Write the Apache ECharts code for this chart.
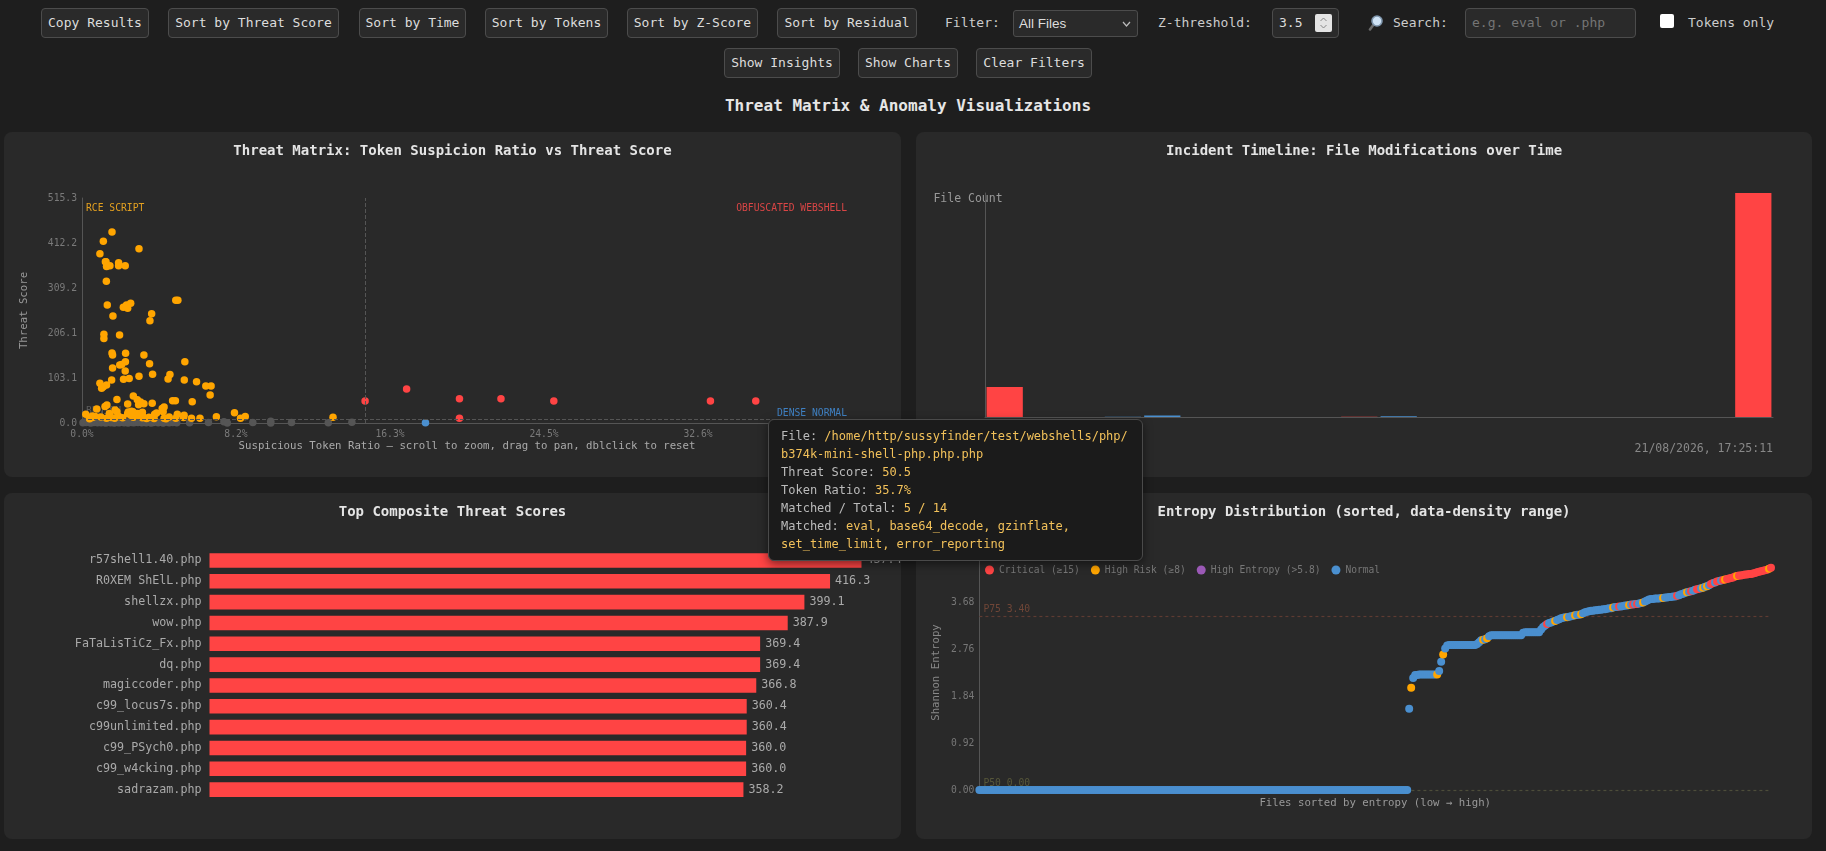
<!DOCTYPE html>
<html><head><meta charset="utf-8">
<script src="https://cdn.jsdelivr.net/npm/echarts@6.0.0/dist/echarts.min.js"></script>
<style>
html,body{margin:0;padding:0;background:#1e1e1e;}
body{width:1826px;height:851px;position:relative;overflow:hidden;font-family:'DejaVu Sans Mono',monospace;color:#ddd;}
.btn{position:absolute;box-sizing:border-box;height:30px;line-height:28px;border:1px solid #4c4c4c;border-radius:4px;background:#2a2a2a;color:#ddd;font-size:13px;text-align:center;white-space:nowrap;}
.lbl{position:absolute;font-size:13px;color:#ccc;line-height:30px;top:8px;white-space:nowrap;}
.inp{position:absolute;box-sizing:border-box;top:8px;height:30px;border:1px solid #4c4c4c;border-radius:4px;background:#2a2a2a;}
.panel{position:absolute;background:#292929;border-radius:8px;}
</style></head>
<body>
<div class="btn" style="left:41px;top:8px;width:108px;">Copy Results</div>
<div class="btn" style="left:168px;top:8px;width:171px;">Sort by Threat Score</div>
<div class="btn" style="left:359px;top:8px;width:107px;">Sort by Time</div>
<div class="btn" style="left:485px;top:8px;width:123px;">Sort by Tokens</div>
<div class="btn" style="left:627px;top:8px;width:131px;">Sort by Z-Score</div>
<div class="btn" style="left:777px;top:8px;width:140px;">Sort by Residual</div>
<div class="lbl" style="left:945px;">Filter:</div>
<div class="inp" style="left:1013px;top:10px;height:27px;width:125px;border-radius:3px;">
  <span style="position:absolute;left:5px;top:0;line-height:25px;font-family:'Liberation Sans',Arial,sans-serif;font-size:13.5px;color:#ddd;">All Files</span>
  <svg style="position:absolute;left:108px;top:10px" width="9" height="6" viewBox="0 0 9 6"><polyline points="1,1 4.5,5 8,1" fill="none" stroke="#bbb" stroke-width="1.2"/></svg>
</div>
<div class="lbl" style="left:1158px;">Z-threshold:</div>
<div class="inp" style="left:1272px;width:67px;">
  <span style="position:absolute;left:6px;top:0;line-height:28px;font-size:13px;color:#ddd;">3.5</span>
  <div style="position:absolute;left:42px;top:5px;width:17px;height:18px;background:#e4e4e4;border-radius:2px;">
    <svg style="position:absolute;left:4px;top:2px" width="9" height="14" viewBox="0 0 9 14"><polyline points="1.5,5 4.5,2 7.5,5" fill="none" stroke="#888" stroke-width="1"/><polyline points="1.5,9 4.5,12 7.5,9" fill="none" stroke="#888" stroke-width="1"/></svg>
  </div>
</div>
<svg style="position:absolute;left:1367px;top:15px" width="17" height="16" viewBox="0 0 17 16"><line x1="7" y1="9" x2="3" y2="14.5" stroke="#6a6a6a" stroke-width="2.6" stroke-linecap="round"/><circle cx="10" cy="6" r="5" fill="#cfe3f5" stroke="#7f96ad" stroke-width="1.6"/></svg>
<div class="lbl" style="left:1393px;">Search:</div>
<div class="inp" style="left:1465px;width:171px;">
  <span style="position:absolute;left:6px;top:0;line-height:28px;font-size:13px;color:#757575;">e.g. eval or .php</span>
</div>
<div style="position:absolute;left:1660px;top:14px;width:14px;height:14px;background:#fff;border-radius:2px;"></div>
<div class="lbl" style="left:1688px;">Tokens only</div>

<div class="btn" style="left:724px;top:48px;width:116px;">Show Insights</div>
<div class="btn" style="left:858px;top:48px;width:100px;">Show Charts</div>
<div class="btn" style="left:976px;top:48px;width:116px;">Clear Filters</div>

<div style="position:absolute;left:0;width:1816px;top:96px;line-height:20px;text-align:center;font-size:16px;font-weight:bold;color:#e6e6e6;">Threat Matrix &amp; Anomaly Visualizations</div>

<div id="c1" class="panel" style="left:4px;top:132px;width:897px;height:345px;z-index:5;"></div>
<div id="c2" class="panel" style="left:916px;top:132px;width:896px;height:345px;"></div>
<div id="c3" class="panel" style="left:4px;top:493px;width:897px;height:346px;"></div>
<div id="c4" class="panel" style="left:916px;top:493px;width:896px;height:346px;"></div>

<script>
// ---------- DATA ----------
// Threat matrix: [suspicious token ratio %, threat score]
const lowRisk = [
[0.05,0.4],[0.12,2.1],[0.22,0.9],[0.31,3.6],[0.38,1.2],[0.47,0.2],[0.56,2.7],[0.63,1.0],[0.74,4.4],[0.82,0.6],
[0.91,1.9],[1.02,0.3],[1.08,3.1],[1.17,1.4],[1.26,0.1],[1.35,2.4],[1.44,5.0],[1.52,0.8],[1.63,1.7],[1.71,0.2],
[1.80,3.3],[1.88,1.1],[1.97,0.5],[2.06,2.2],[2.14,4.0],[2.23,0.7],[2.35,1.5],[2.44,0.2],[2.52,3.0],[2.63,1.2],
[2.75,0.4],[2.86,2.5],[2.97,0.9],[3.08,4.6],[3.17,0.3],[3.29,1.8],[3.40,0.6],[3.52,2.9],[3.66,0.2],[3.78,1.3],
[3.91,3.5],[4.04,0.5],[4.18,1.6],[4.30,0.1],[4.47,2.3],[4.62,0.7],[4.80,1.0],[5.02,0.3],[5.70,0.5],[6.70,1.0],
[7.52,3.0],[7.70,0.1],[9.05,1.0],[10.00,4.0],[10.00,0.2],[11.10,1.0],[13.05,0.5],[14.30,2.0]
];
const rceScripts = [
[1.59,437.4],[1.13,416.3],[3.02,399.1],[0.95,387.9],[1.24,369.4],[1.27,369.4],[1.94,366.8],[1.34,360.4],[1.48,360.4],[1.94,360.0],[2.29,360.0],[1.30,358.2],
[1.29,324.5],[1.34,270.2],[1.64,245.1],[2.19,265.0],[2.36,270.3],[2.58,274.1],[2.42,262.6],[4.97,281.0],[5.08,281.0],[3.69,250.3],[3.60,234.2],
[1.16,203.1],[1.16,193.4],[1.99,201.5],[1.59,160.2],[1.62,156.0],[2.31,159.6],[3.28,155.7],[2.30,140.0],[2.10,134.0],[2.00,133.0],[3.58,135.8],[5.45,140.4],
[1.62,126.0],[2.29,119.0],[3.02,107.0],[3.74,111.5],[4.66,111.0],[4.56,101.0],[1.57,98.5],[2.20,100.0],[2.50,102.0],[5.42,98.5],[6.07,94.6],[6.56,84.7],[6.84,84.7],[6.79,64.0],
[0.95,90.8],[1.13,83.0],[1.30,87.0],[1.04,79.4],[2.72,61.8],[2.93,53.0],[3.10,48.0],[3.28,44.0],[3.00,42.0],[3.72,45.0],[4.80,51.0],[4.95,51.0],[5.84,48.8],
[2.42,43.5],[1.85,54.0],[1.32,41.0],[1.22,38.0],[0.78,32.0],[1.75,29.8],[1.85,26.0],[4.25,33.0],[4.35,36.5],[4.30,26.0],[3.95,23.0],[3.85,20.0],[2.70,26.0],
[2.95,21.5],[3.20,24.5],[0.20,20.0],[0.55,12.5],[0.70,15.0],[1.45,21.5],[1.55,12.5],[1.73,11.0],[1.30,11.0],[2.42,21.0],[2.60,18.0],[2.72,13.0],[3.20,12.0],
[3.42,10.5],[3.82,10.5],[4.35,11.0],[4.45,9.5],[4.97,10.7],[5.41,17.5],[5.38,12.5],[5.80,10.7],[6.25,10.7],[7.12,14.5],[8.08,23.6],[8.40,11.0],[8.65,15.0],[13.30,13.0],
[0.55,16.0],[2.45,25.0],[2.62,27.0],[3.05,16.0],[3.20,16.5],[4.62,14.0],[5.05,20.0],[3.55,13.0],[1.95,15.0],[2.15,12.0],[1.00,14.0],[0.40,10.0]
];
const denseNormal = [[18.2,0.7]];
const obfuscated = [[15.0,50.5],[17.2,77.9],[20.0,55.7],[20.0,10.7],[22.2,55.7],[25.0,50.5],[33.3,50.5],[35.7,50.5]];
const ratioThreshold = 15;
const scoreThreshold = 8;
const ratioAxisMax = 40.8, ratioAxisStep = 8.16;
const scoreAxisMax = 515.3, scoreAxisStep = 103.06;
// hovered point details (tooltip)
const tipIndex = 7;
const tipFile = '/home/http/sussyfinder/test/webshells/php/b374k-mini-shell-php.php.php';
const tipMatched = ['eval','base64_decode','gzinflate','set_time_limit','error_reporting'];
const tipTotal = 14;

// Incident timeline (20 bins)
const binCounts   = [82,0,0,1,4,0,0,0,0,1,2,0,0,0,0,0,0,0,0,612];
const binSeverity = ['c','','','n','n','','','','','c','n','','','','','','','','','c'];
const timelineStart = '11/03/2019, 08:14:52';
const timelineEnd = '21/08/2026, 17:25:11';

// Top composite scores
const topFiles = ['r57shell1.40.php','R0XEM ShElL.php','shellzx.php','wow.php','FaTaLisTiCz_Fx.php','dq.php','magiccoder.php','c99_locus7s.php','c99unlimited.php','c99_PSych0.php','c99_w4cking.php','sadrazam.php'];
const topScores = [437.4,416.3,399.1,387.9,369.4,369.4,366.8,360.4,360.4,360.0,360.0,358.2];

// Entropy (sorted)
const entropySorted = [
0,0,0,0,0,0,0,0,0,0,0,0,0,0,0,0,0,0,0,0,0,0,0,0,0,0,0,0,0,0,0,0,0,0,0,0,0,0,0,0,0,0,0,
0,0,0,0,0,0,0,0,0,0,0,0,0,0,0,0,0,0,0,0,0,0,0,0,0,0,0,0,0,0,0,0,0,0,0,0,0,0,0,0,0,0,0,
0,0,0,0,0,0,0,0,0,0,0,0,0,0,0,0,0,0,0,0,0,0,0,0,0,0,0,0,0,0,0,0,0,0,0,0,0,0,0,0,0,0,0,
0,0,0,0,0,0,0,0,0,0,0,0,0,0,0,0,0,0,0,0,0,0,0,0,0,0,0,0,0,0,0,0,0,0,0,0,0,0,0,0,0,0,0,
0,0,0,0,0,0,0,0,0,0,0,0,0,0,0,0,0,0,0,0,0,0,0,0,0,0,0,0,0,0,0,0,0,0,0,0,0,0,0,0,0,0,0,
1.59,2.00,2.19,2.25,2.25,2.26,2.26,2.26,2.26,2.26,2.26,2.26,2.26,2.26,2.26,2.33,2.51,2.65,2.77,
2.83,2.84,2.84,2.84,2.84,2.84,2.84,2.84,2.84,2.84,2.84,2.84,2.84,2.84,2.84,
2.86,2.89,2.93,2.94,2.95,2.97,3.01,
3.03,3.03,3.03,3.03,3.03,3.03,3.03,3.03,3.03,3.03,3.03,3.03,3.03,3.03,3.03,3.03,
3.08,3.09,3.09,3.09,3.09,3.09,3.09,3.09,3.09,
3.14,3.19,3.22,3.25,3.27,3.28,3.30,3.31,3.33,3.34,3.36,3.37,3.38,3.38,3.39,3.40,3.41,3.42,3.43,3.43,
3.44,3.46,3.48,3.49,3.50,3.51,3.51,3.52,3.52,3.53,3.53,3.54,3.54,3.55,3.56,3.56,3.57,3.58,3.58,3.59,
3.59,3.60,3.61,3.61,3.62,3.63,3.63,3.64,3.64,3.65,3.66,3.67,3.69,3.71,3.73,3.74,3.74,3.75,3.75,3.75,
3.76,3.76,3.77,3.77,3.78,3.78,3.79,3.79,3.80,3.81,3.83,3.84,3.86,3.87,3.88,3.89,3.90,3.92,3.93,3.94,
3.95,3.96,3.98,3.99,4.01,4.03,4.05,4.06,4.08,4.09,4.10,4.11,4.12,4.13,4.14,4.15,4.16,4.18,4.19,4.20,
4.20,4.21,4.22,4.22,4.23,4.23,4.24,4.25,4.26,4.27,4.28,4.29,4.30,4.31,4.33,4.35
];
const criticalIdx = [284,320,327,329,349,356,359,360,366,367,369,370,372,374,375,376,377,378,380,381,382,383,384,385,386,387,388,389,390,391,392,393,394,396];
const highRiskIdx = [216,229,232,252,254,288,294,298,301,317,325,332,342,354,362,364,373,379,395];
const highEntropyIdx = [];
const entropyP75 = 3.40, entropyP50 = 0.00;
const entropyAxisMax = 4.6, entropyAxisStep = 0.92;

// ---------- STYLE ----------
const FONT = "'DejaVu Sans Mono', monospace";
const RED = '#ff4444', ORANGE = '#ffa500', BLUE = '#4a8fcf', GRAY = '#555555', PURPLE = '#9b59b6';
const gold = '#f2c15a';
function title(text){ return {text, left:'center', top:12, padding:0, textStyle:{color:'#e4e4e4', fontSize:14, fontWeight:'bold', fontFamily:FONT}}; }

// ---------- CHART 1: Threat matrix ----------
const g1 = {left:78, top:66, width:770, height:225};
const c1 = echarts.init(document.getElementById('c1'));
c1.setOption({
  animation:false,
  textStyle:{fontFamily:FONT},
  title: title('Threat Matrix: Token Suspicion Ratio vs Threat Score'),
  grid:{left:g1.left, top:g1.top, width:g1.width, height:g1.height, outerBoundsMode:'none'},
  xAxis:{type:'value', min:0, max:ratioAxisMax, interval:ratioAxisStep,
    axisLine:{show:true, lineStyle:{color:'#555'}}, axisTick:{show:false}, splitLine:{show:false},
    axisLabel:{color:'#7a7a7a', fontSize:9.7, margin:6, formatter:v=>v.toFixed(1)+'%'},
    name:'Suspicious Token Ratio — scroll to zoom, drag to pan, dblclick to reset', nameLocation:'middle', nameGap:18, nameMoveOverlap:false,
    nameTextStyle:{color:'#aaa', fontSize:10.7}},
  yAxis:{type:'value', min:0, max:scoreAxisMax, interval:scoreAxisStep,
    axisLine:{show:true, lineStyle:{color:'#555'}}, axisTick:{show:false}, splitLine:{show:false},
    axisLabel:{color:'#7a7a7a', fontSize:9.7, margin:5, formatter:v=>v.toFixed(1)},
    name:'Threat Score', nameLocation:'middle', nameGap:52, nameMoveOverlap:false, nameTextStyle:{color:'#999', fontSize:10.7}},
  dataZoom:[{type:'inside', xAxisIndex:0},{type:'inside', yAxisIndex:0}],
  tooltip:{trigger:'item', triggerOn:'none', alwaysShowContent:true, transitionDuration:0,
    backgroundColor:'#1b1b1b', borderColor:'#4a4a4a', borderWidth:1, padding:[7,12],
    textStyle:{color:'#bbb', fontFamily:FONT, fontSize:12, lineHeight:18},
    extraCssText:'width:349px;white-space:normal;border-radius:6px;box-shadow:0 3px 10px rgba(0,0,0,0.5);line-height:18px;',
    position:(pt)=>[pt[0]+12, pt[1]+18],
    formatter:(p)=>{
      const v = p.value;
      return `<div style="font-family:${FONT};font-size:12px;line-height:18px;color:#bbb">`+
        `<div style="word-break:break-all">File: <span style="color:${gold}">${tipFile}</span></div>`+
        `<div>Threat Score: <span style="color:${gold}">${v[1].toFixed(1)}</span></div>`+
        `<div>Token Ratio: <span style="color:${gold}">${v[0].toFixed(1)}%</span></div>`+
        `<div>Matched / Total: <span style="color:${gold}">${tipMatched.length} / ${tipTotal}</span></div>`+
        `<div>Matched: <span style="color:${gold}">${tipMatched.join(', ')}</span></div></div>`;
    }},
  graphic:[
    {type:'text', x:g1.left+4, y:g1.top+10, z:1, style:{text:'RCE SCRIPT', fill:'#e3a020', font:`9.7px ${FONT}`, verticalAlign:'middle', textVerticalAlign:'middle'}},
    {type:'text', x:g1.left+g1.width-5, y:g1.top+10, z:1, style:{text:'OBFUSCATED WEBSHELL', fill:'#d94545', font:`9.7px ${FONT}`, align:'right', textAlign:'right', verticalAlign:'middle', textVerticalAlign:'middle'}},
    {type:'text', x:g1.left+g1.width-5, y:g1.top+g1.height-10, z:1, style:{text:'DENSE NORMAL', fill:'#3f80c2', font:`9.7px ${FONT}`, align:'right', textAlign:'right', verticalAlign:'middle', textVerticalAlign:'middle'}},
    {type:'text', x:g1.left+4, y:g1.top+g1.height-12, z:1, style:{text:'BENIGN', fill:'#5c5c5c', font:`9.7px ${FONT}`, verticalAlign:'middle', textVerticalAlign:'middle'}}
  ],
  series:[
    {name:'Low', type:'scatter', symbolSize:7.5, data:lowRisk, itemStyle:{color:GRAY, opacity:1},
      markLine:{silent:true, symbol:'none', label:{show:false}, lineStyle:{type:'dashed', color:'#555', width:1},
        data:[{xAxis:ratioThreshold},{yAxis:scoreThreshold}]}},
    {name:'RCE Script', type:'scatter', symbolSize:7.5, data:rceScripts, itemStyle:{color:ORANGE, opacity:1}},
    {name:'Dense Normal', type:'scatter', symbolSize:7.5, data:denseNormal, itemStyle:{color:BLUE, opacity:1}},
    {name:'Obfuscated Webshell', type:'scatter', symbolSize:7.5, data:obfuscated, itemStyle:{color:RED, opacity:1}}
  ]
});
c1.dispatchAction({type:'showTip', seriesIndex:3, dataIndex:tipIndex});

// ---------- CHART 2: Incident timeline ----------
const sevColor = {c:RED, n:BLUE, '':BLUE};
const c2 = echarts.init(document.getElementById('c2'));
c2.setOption({
  animation:false,
  textStyle:{fontFamily:FONT},
  title: title('Incident Timeline: File Modifications over Time'),
  grid:{left:69, right:39, top:61, bottom:60, outerBoundsMode:'none'},
  xAxis:[
    {type:'category', data:binCounts.map((_,i)=>String(i)), axisLine:{show:true, lineStyle:{color:'#555'}}, axisTick:{show:false}, axisLabel:{show:false}},
    {type:'value', position:'bottom', min:0, max:1, interval:1, axisLine:{show:false}, axisTick:{show:false}, splitLine:{show:false},
      axisLabel:{color:'#888', fontSize:11.5, margin:26, alignMinLabel:'left', alignMaxLabel:'right', formatter:v=> v===0 ? timelineStart : timelineEnd}}
  ],
  yAxis:{type:'value', min:0, max:'dataMax', axisLine:{show:true, lineStyle:{color:'#555'}}, axisTick:{show:false}, axisLabel:{show:false}, splitLine:{show:false},
    name:'File Count', nameLocation:'end', nameGap:-12, nameMoveOverlap:false, nameTextStyle:{color:'#999', fontSize:11.5, align:'center', padding:[0,34,0,0]}},
  series:[{type:'bar', barCategoryGap:'8%', xAxisIndex:0,
    data:binCounts.map((v,i)=>({value:v, itemStyle:{color:sevColor[binSeverity[i]]}}))}]
});

// ---------- CHART 3: Top composite scores ----------
const c3 = echarts.init(document.getElementById('c3'));
c3.setOption({
  animation:false,
  textStyle:{fontFamily:FONT},
  title: title('Top Composite Threat Scores'),
  grid:{left:205.5, top:57, width:652, height:250, outerBoundsMode:'none'},
  xAxis:{type:'value', min:0, max:Math.max(...topScores), show:false},
  yAxis:{type:'category', inverse:true, data:topFiles, axisLine:{show:false}, axisTick:{show:false},
    axisLabel:{color:'#aaa', fontSize:11.7, margin:8, padding:[6,0,0,0]}},
  series:[{type:'bar', data:topScores, barCategoryGap:'30%', itemStyle:{color:RED},
    label:{show:true, position:'right', distance:5, color:'#aaa', fontSize:11.7, fontFamily:FONT, padding:[6,0,0,0], formatter:p=>p.value.toFixed(1)}}]
});

// ---------- CHART 4: Entropy distribution ----------
const critSet = new Set(criticalIdx), highSet = new Set(highRiskIdx), entSet = new Set(highEntropyIdx);
function entColor(i){ return critSet.has(i) ? RED : highSet.has(i) ? ORANGE : entSet.has(i) ? PURPLE : BLUE; }
const c4 = echarts.init(document.getElementById('c4'));
c4.setOption({
  animation:false,
  textStyle:{fontFamily:FONT},
  title: title('Entropy Distribution (sorted, data-density range)'),
  legend:{left:64, top:67, itemWidth:9, itemHeight:9, itemGap:11, icon:'circle',
    textStyle:{color:'#777', fontSize:9.6, fontFamily:FONT},
    data:['Critical (≥15)','High Risk (≥8)','High Entropy (>5.8)','Normal']},
  grid:{left:63.4, right:41, top:62, bottom:49, outerBoundsMode:'none'},
  xAxis:{type:'value', min:0, max:entropySorted.length-1, axisLine:{show:false}, axisTick:{show:false}, axisLabel:{show:false}, splitLine:{show:false},
    name:'Files sorted by entropy (low → high)', nameLocation:'middle', nameGap:8, nameMoveOverlap:false, nameTextStyle:{color:'#999', fontSize:10.7}},
  yAxis:{type:'value', min:0, max:entropyAxisMax, interval:entropyAxisStep,
    axisLine:{show:true, lineStyle:{color:'#555'}}, axisTick:{show:false}, splitLine:{show:false},
    axisLabel:{color:'#777', fontSize:9.7, margin:5, showMaxLabel:false, formatter:v=>v.toFixed(2)},
    name:'Shannon Entropy', nameLocation:'middle', nameGap:38, nameMoveOverlap:false, nameTextStyle:{color:'#888', fontSize:10.7}},
  series:[
    {name:'Critical (≥15)', type:'scatter', data:[], itemStyle:{color:RED, opacity:1}, z:1,
      markLine:{silent:true, symbol:'none', z:1,
        data:[
          {yAxis:entropyP75, lineStyle:{type:[3,3], color:'#5e3b32', width:1.2},
            label:{show:true, position:'insideStartTop', distance:[4,2], formatter:'P75 '+entropyP75.toFixed(2), color:'#704637', fontSize:9.7, fontFamily:FONT}},
          {yAxis:entropyP50, lineStyle:{type:[3,3], color:'#4d4d3a', width:1.2},
            label:{show:true, position:'insideStartTop', distance:[4,2], formatter:'P50 '+entropyP50.toFixed(2), color:'#58583a', fontSize:9.7, fontFamily:FONT}}
        ]}},
    {name:'High Risk (≥8)', type:'scatter', data:[], itemStyle:{color:ORANGE, opacity:1}},
    {name:'High Entropy (>5.8)', type:'scatter', data:[], itemStyle:{color:PURPLE, opacity:1}},
    {name:'Normal', type:'scatter', data:[], itemStyle:{color:BLUE, opacity:1}},
    {name:'files', type:'scatter', symbolSize:8, z:3,
      data:entropySorted.map((v,i)=>({value:[i,v], itemStyle:{color:entColor(i), opacity:1}}))}
  ]
});
</script>
</body></html>
